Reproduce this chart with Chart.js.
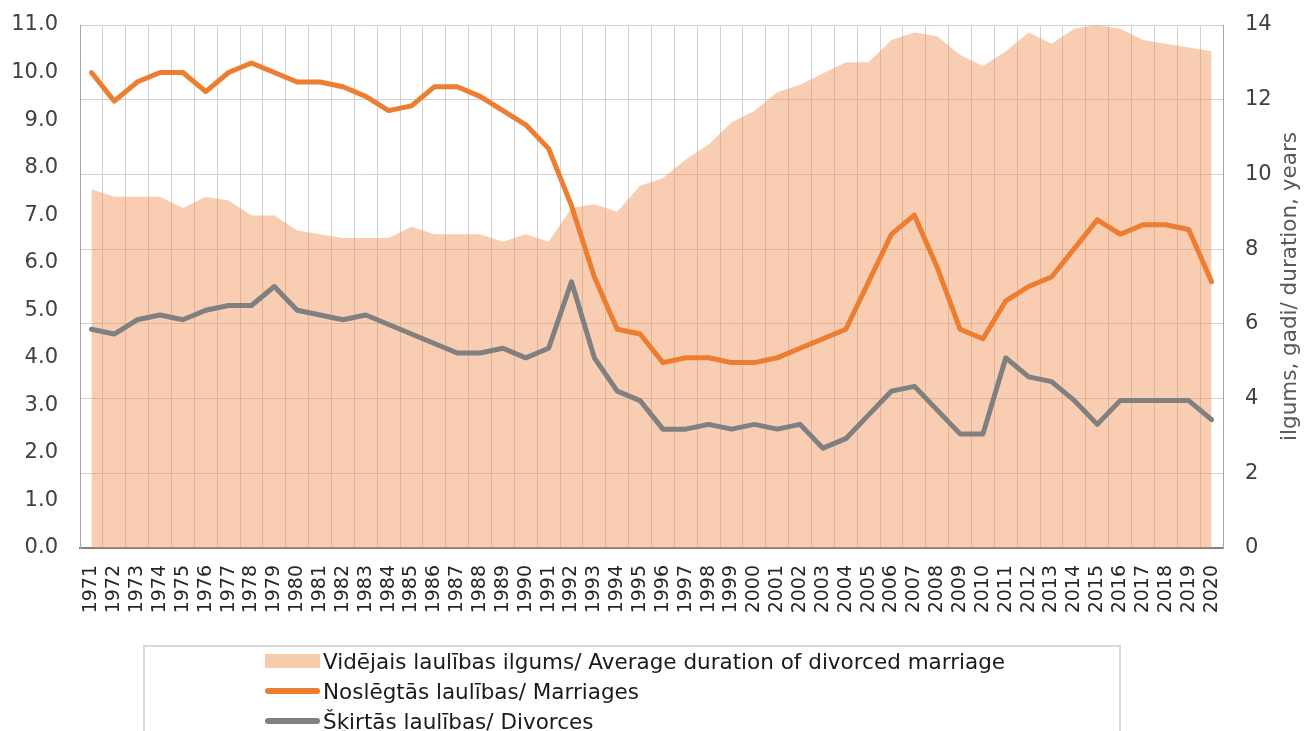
<!DOCTYPE html>
<html>
<head>
<meta charset="utf-8">
<script src="https://cdn.jsdelivr.net/npm/chart.js@4.4.1/dist/chart.umd.min.js"></script>
<style>
  body { margin: 0; background: #fff; font-family: "DejaVu Sans", Verdana, sans-serif; }
  #wrap { position: relative; width: 1306px; height: 731px; overflow: hidden; }
  #legend { position: absolute; left: 143px; top: 645px; width: 978px; height: 120px; border: 2px solid #d9d9d9; box-sizing: border-box; }
  .item { position: absolute; left: 120px; height: 30px; display: flex; align-items: center; font-size: 21.5px; color: #1a1a1a; white-space: nowrap; }
  .sw { width: 55px; margin-right: 3px; }
</style>
</head>
<body>
<div id="wrap">
  <canvas id="chart" width="1306" height="731"></canvas>
  <div id="legend"></div>
</div>
<script>
const years = ["1971","1972","1973","1974","1975","1976","1977","1978","1979","1980",
  "1981","1982","1983","1984","1985","1986","1987","1988","1989","1990",
  "1991","1992","1993","1994","1995","1996","1997","1998","1999","2000",
  "2001","2002","2003","2004","2005","2006","2007","2008","2009","2010",
  "2011","2012","2013","2014","2015","2016","2017","2018","2019","2020"];

// per 1000 population, left axis
const marriages = [10.0, 9.4, 9.8, 10.0, 10.0, 9.6, 10.0, 10.2, 10.0, 9.8,
  9.8, 9.7, 9.5, 9.2, 9.3, 9.7, 9.7, 9.5, 9.2, 8.9,
  8.4, 7.2, 5.7, 4.6, 4.5, 3.9, 4.0, 4.0, 3.9, 3.9,
  4.0, 4.2, 4.4, 4.6, 5.6, 6.6, 7.0, 5.9, 4.6, 4.4,
  5.2, 5.5, 5.7, 6.3, 6.9, 6.6, 6.8, 6.8, 6.7, 5.6];

const divorces = [4.6, 4.5, 4.8, 4.9, 4.8, 5.0, 5.1, 5.1, 5.5, 5.0,
  4.9, 4.8, 4.9, 4.7, 4.5, 4.3, 4.1, 4.1, 4.2, 4.0,
  4.2, 5.6, 4.0, 3.3, 3.1, 2.5, 2.5, 2.6, 2.5, 2.6,
  2.5, 2.6, 2.1, 2.3, 2.8, 3.3, 3.4, 2.9, 2.4, 2.4,
  4.0, 3.6, 3.5, 3.1, 2.6, 3.1, 3.1, 3.1, 3.1, 2.7];

// years, right axis
const duration = [9.6, 9.4, 9.4, 9.4, 9.1, 9.4, 9.3, 8.9, 8.9, 8.5,
  8.4, 8.3, 8.3, 8.3, 8.6, 8.4, 8.4, 8.4, 8.2, 8.4,
  8.2, 9.1, 9.2, 9.0, 9.7, 9.9, 10.4, 10.8, 11.4, 11.7,
  12.2, 12.4, 12.7, 13.0, 13.0, 13.6, 13.8, 13.7, 13.2, 12.9,
  13.3, 13.8, 13.5, 13.9, 14.0, 13.9, 13.6, 13.5, 13.4, 13.3];

const seriesNames = [
  "Vidējais laulības ilgums/ Average duration of divorced marriage",
  "Noslēgtās laulības/ Marriages",
  "Šķirtās laulības/ Divorces"
];
const rightTitle = "ilgums, gadi/ duration, years";

const FONT = "DejaVu Sans";
const TICK = "#404040";
const GRID = "#d0d0d0";

// Chart.js puts a right-hand title top-to-bottom; this one reads bottom-up
const rightTitlePlugin = {
  id: "rightTitle",
  afterDraw(chart) {
    const { ctx, chartArea } = chart;
    ctx.save();
    ctx.translate(1290, (chartArea.top + chartArea.bottom) / 2);
    ctx.rotate(-Math.PI / 2);
    ctx.font = `21.5px "${FONT}"`;
    ctx.fillStyle = "#595959";
    ctx.textAlign = "center";
    ctx.textBaseline = "middle";
    ctx.fillText(rightTitle, 0, 0);
    ctx.restore();
  }
};

// fixed axis boxes so the plot sits where the original's does
function fixY(width) {
  return s => {
    s.width = width;
    s.paddingTop = 0;
    s.paddingBottom = 0;
  };
}

new Chart(document.getElementById("chart"), {
  type: "line",
  data: {
    labels: years,
    datasets: [
      {
        label: seriesNames[0], data: duration, yAxisID: "yRight",
        fill: "origin", backgroundColor: "rgba(239,144,84,0.45)",
        borderWidth: 0, pointRadius: 0, tension: 0, order: 3
      },
      {
        label: seriesNames[1], data: marriages, yAxisID: "yLeft",
        borderColor: "#ED7D31", borderWidth: 5, pointRadius: 0, fill: false,
        borderJoinStyle: "round", borderCapStyle: "round", tension: 0, order: 1
      },
      {
        label: seriesNames[2], data: divorces, yAxisID: "yLeft",
        borderColor: "#808080", borderWidth: 5, pointRadius: 0, fill: false,
        borderJoinStyle: "round", borderCapStyle: "round", tension: 0, order: 2
      }
    ]
  },
  options: {
    responsive: false,
    animation: false,
    layout: { padding: { top: 25, left: 0, right: 0, bottom: 0 } },
    plugins: { legend: { display: false }, tooltip: { enabled: false } },
    scales: {
      x: {
        offset: true,
        grid: { offset: true, color: GRID, drawTicks: false },
        border: { color: "#7f7f7f", width: 2 },
        ticks: { autoSkip: false, minRotation: 90, maxRotation: 90, padding: 17, color: "#262626", font: { family: FONT, size: 19 } },
        afterFit(s) { s.height = 183; s.paddingLeft = 0; s.paddingRight = 0; }
      },
      yLeft: {
        position: "left", min: 0, max: 11,
        grid: { display: false },
        border: { color: "#a6a6a6", width: 1 },
        ticks: { stepSize: 1, padding: 14, color: TICK, font: { family: FONT, size: 21 }, callback: v => v.toFixed(1) },
        afterFit: fixY(80)
      },
      yRight: {
        position: "right", min: 0, max: 14,
        grid: { color: GRID, drawTicks: false },
        border: { color: "#a6a6a6", width: 1 },
        ticks: { stepSize: 2, padding: 22, color: TICK, font: { family: FONT, size: 21 } },
        afterFit: fixY(83)
      }
    }
  },
  plugins: [rightTitlePlugin]
});

// legend box, one entry per row like the original
const swatches = [
  `<div class="sw" style="height:14px;background:#F8CBAD;"></div>`,
  `<div class="sw" style="height:6px;border-radius:3px;background:#ED7D31;"></div>`,
  `<div class="sw" style="height:6px;border-radius:3px;background:#808080;"></div>`
];
document.getElementById("legend").innerHTML = seriesNames.map((name, i) => `
  <div class="item" style="top:${i * 30 - 1}px;">${swatches[i]}<span>${name}</span></div>
`).join("");
</script>
</body>
</html>
